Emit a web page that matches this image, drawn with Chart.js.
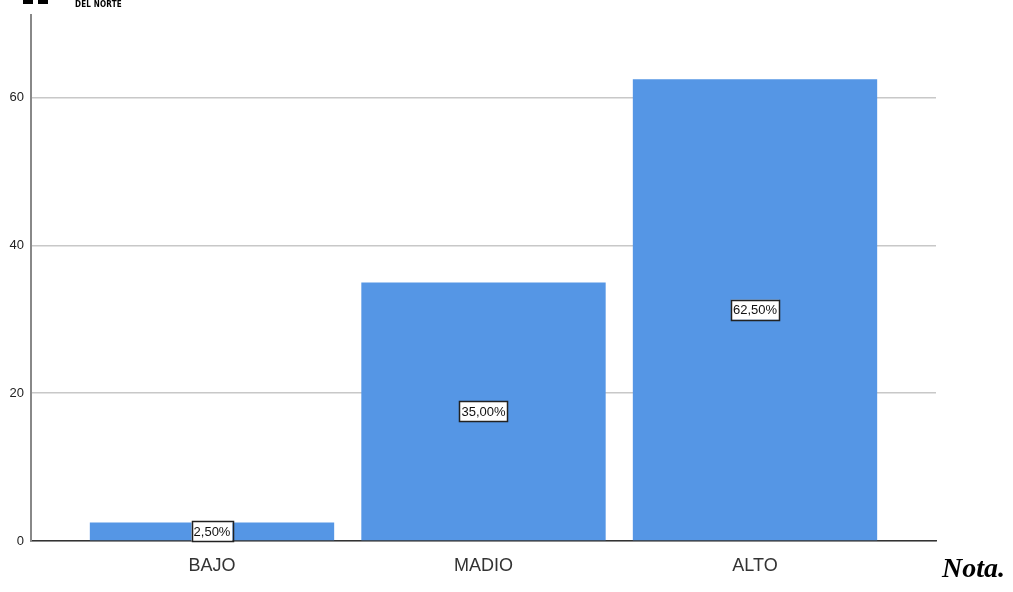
<!DOCTYPE html>
<html>
<head>
<meta charset="utf-8">
<script src="https://cdn.jsdelivr.net/npm/chart.js@4"></script>
<style>
    html, body { margin: 0; padding: 0; background: #fff; }
    #wrap { position: relative; width: 1013px; height: 592px; overflow: hidden; }
    #chart { position: absolute; left: 0; top: 0; }
    .logo { position: absolute; top: -6px; width: 10px; height: 10px; background: #000; }
    #brand { position: absolute; left: 75px; top: 0px; font: bold 8px "DejaVu Sans Condensed", "Liberation Sans Narrow", sans-serif; color: #000; letter-spacing: 0.2px; }
    #nota { position: absolute; left: 942px; top: 552px; font: italic bold 28px "Liberation Serif", "DejaVu Serif", serif; color: #000; }
</style>
</head>
<body>
<div id="wrap">
    <canvas id="chart" width="1013" height="592"></canvas>
    <div class="logo" style="left:23px"></div>
    <div class="logo" style="left:38px"></div>
    <div id="brand">DEL NORTE</div>
    <div id="nota">Nota.</div>
</div>
<script>
// Nivel distribution (percent of respondents)
const categories = ['BAJO', 'MADIO', 'ALTO'];
const percentages = [2.5, 35.0, 62.5];
const yTicks = [0, 20, 40, 60];

const SANS = '"Liberation Sans", Arial, sans-serif';

// Boxed value labels in the middle of each bar, e.g. "35,00%"
const boxLabels = {
    id: 'boxLabels',
    afterDatasetsDraw(chart) {
        const ctx = chart.ctx;
        const meta = chart.getDatasetMeta(0);
        ctx.save();
        ctx.font = '13px ' + SANS;
        ctx.textAlign = 'center';
        ctx.textBaseline = 'middle';
        meta.data.forEach((bar, i) => {
            const text = percentages[i].toFixed(2).replace('.', ',') + '%';
            const cy = (bar.y + bar.base) / 2;
            const w = ctx.measureText(text).width + 4;
            const h = 20;
            ctx.fillStyle = '#fff';
            ctx.fillRect(bar.x - w / 2, cy - h / 2, w, h);
            ctx.strokeStyle = '#222';
            ctx.lineWidth = 1.5;
            ctx.strokeRect(Math.round(bar.x - w / 2) + 0.5, Math.round(cy - h / 2) + 0.5, Math.round(w), h);
            ctx.fillStyle = '#111';
            ctx.fillText(text, bar.x, cy + 1);
        });
        ctx.restore();
    }
};

new Chart(document.getElementById('chart'), {
    type: 'bar',
    data: {
        datasets: [{
            data: percentages.map((v, i) => ({ x: i, y: v })),
            backgroundColor: '#5596e5',
            borderWidth: 0,
            barPercentage: 0.9,
            categoryPercentage: 1.0
        }]
    },
    options: {
        responsive: false,
        animation: false,
        layout: { padding: { left: 0, top: 15, right: 77, bottom: 0 } },
        plugins: {
            legend: { display: false },
            tooltip: { enabled: false }
        },
        scales: {
            x: {
                type: 'linear',
                offset: false,
                min: -2 / 3,
                max: 2 + 2 / 3,
                afterFit(scale) { scale.height = 51; },
                grid: { display: false, drawTicks: false },
                border: { color: '#333', width: 1.5 },
                ticks: {
                    stepSize: 1,
                    includeBounds: false,
                    padding: 14,
                    color: '#333',
                    font: { family: SANS, size: 18 },
                    callback: (v) => Number.isInteger(v) ? categories[v] : ''
                }
            },
            y: {
                min: 0,
                max: 71.2,
                afterFit(scale) { scale.width = 31; },
                grid: { color: '#c8c8c8', lineWidth: 1.5, drawTicks: false },
                border: { color: '#888', width: 2 },
                afterBuildTicks(scale) {
                    scale.ticks = yTicks.map(v => ({ value: v }));
                },
                ticks: {
                    padding: 7,
                    color: '#222',
                    font: { family: SANS, size: 13 }
                }
            }
        }
    },
    plugins: [boxLabels]
});
</script>
</body>
</html>
